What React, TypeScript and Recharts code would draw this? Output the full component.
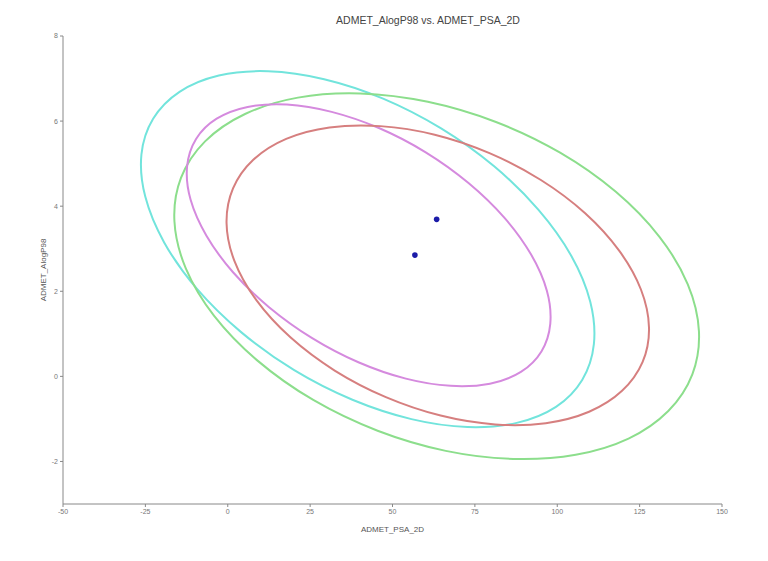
import React from "react";
import { ComposedChart, Line, Scatter, XAxis, YAxis } from "recharts";

const xTicks = [-50, -25, 0, 25, 50, 75, 100, 125, 150];
const yTicks = [-2, 0, 2, 4, 6, 8];

const cyanX = [108.3, 100.3, 88.2, 73.1, 55.9, 37.8, 19.9, 3.6, -10.0, -20.0, -25.8, -27.0, -23.4, -15.3, -3.2, 11.9, 29.1, 47.2, 65.0, 81.3, 94.9, 105.0, 110.8, 111.9];
const cyanY = [-0.12, -0.76, -1.14, -1.24, -1.05, -0.59, 0.11, 1.02, 2.05, 3.15, 4.24, 5.24, 6.09, 6.73, 7.12, 7.22, 7.03, 6.57, 5.86, 4.96, 3.92, 2.83, 1.74, 0.73];

const greenX = [141.9, 134.5, 122.3, 106.1, 86.9, 66.2, 45.3, 25.5, 8.4, -4.9, -13.6, -17.1, -15.1, -7.7, 4.6, 20.8, 39.9, 60.7, 81.6, 101.3, 118.4, 131.8, 140.5, 143.9];
const greenY = [0.02, -0.85, -1.51, -1.89, -1.99, -1.8, -1.32, -0.59, 0.35, 1.41, 2.54, 3.66, 4.69, 5.56, 6.21, 6.6, 6.7, 6.5, 6.02, 5.29, 4.36, 3.29, 2.16, 1.05];

const magentaX = [95.8, 89.5, 80.0, 67.9, 54.2, 39.6, 25.3, 12.2, 1.1, -7.0, -11.9, -13.0, -10.2, -3.9, 5.6, 17.7, 31.4, 45.9, 60.3, 73.4, 84.5, 92.6, 97.5, 98.5];
const magentaY = [0.56, 0.07, -0.21, -0.26, -0.09, 0.3, 0.88, 1.61, 2.44, 3.31, 4.16, 4.95, 5.61, 6.09, 6.37, 6.43, 6.25, 5.87, 5.29, 4.56, 3.73, 2.86, 2.0, 1.21];

const redX = [126.6, 120.3, 110.2, 96.9, 81.4, 64.6, 47.8, 32.1, 18.5, 8.0, 1.3, -1.1, 0.9, 7.1, 17.2, 30.5, 46.1, 62.8, 79.6, 95.4, 109.0, 119.4, 126.1, 128.6];
const redY = [0.31, -0.37, -0.87, -1.14, -1.17, -0.96, -0.52, 0.11, 0.9, 1.79, 2.72, 3.62, 4.44, 5.12, 5.62, 5.89, 5.92, 5.72, 5.28, 4.64, 3.85, 2.96, 2.04, 1.13];

const pointX = [63.4, 56.8];
const pointY = [3.69, 2.85];

const toRows = (xs: number[], ys: number[]) => xs.map((x, i) => ({ x, y: ys[i] }));

const curves = [
  { name: "cyan", rows: toRows(cyanX, cyanY), color: "#72e4dc" },
  { name: "green", rows: toRows(greenX, greenY), color: "#8cde8c" },
  { name: "magenta", rows: toRows(magentaX, magentaY), color: "#d58ade" },
  { name: "red", rows: toRows(redX, redY), color: "#d67f7f" },
];
const points = toRows(pointX, pointY);

const tickStyle = { fontSize: 7, fill: "#777", fontFamily: "Liberation Sans, Arial, sans-serif" };

export default function App() {
  return (
    <div style={{ position: "relative", width: 752, height: 545, background: "#fff", fontFamily: "Liberation Sans, Arial, sans-serif" }}>
      <div style={{ position: "absolute", left: 0, width: 840, top: 6, textAlign: "center", fontSize: 10.5, color: "#444" }}>
        ADMET_AlogP98 vs. ADMET_PSA_2D
      </div>
      <ComposedChart width={752} height={545} margin={{ top: 28, right: 38, bottom: 19, left: 15 }}>
        <XAxis
          type="number"
          dataKey="x"
          domain={[-50, 150]}
          ticks={xTicks}
          allowDataOverflow
          stroke="#888"
          tickSize={3}
          tick={tickStyle}
          height={30}
          label={{ value: "ADMET_PSA_2D", position: "insideBottom", offset: 2, style: { fontSize: 8, fill: "#555" } }}
        />
        <YAxis
          type="number"
          dataKey="y"
          domain={[-3, 8]}
          ticks={yTicks}
          allowDataOverflow
          stroke="#888"
          tickSize={3}
          tick={tickStyle}
          width={40}
          label={{ value: "ADMET_AlogP98", angle: -90, position: "insideLeft", offset: 20, style: { fontSize: 8, fill: "#555", textAnchor: "middle" } }}
        />
        {curves.map((c) => (
          <Line
            key={c.name}
            data={c.rows}
            dataKey="y"
            type="basisClosed"
            stroke={c.color}
            strokeWidth={2}
            dot={false}
            activeDot={false}
            isAnimationActive={false}
          />
        ))}
        <Scatter data={points} dataKey="y" fill="#1c1ca8" isAnimationActive={false} shape={(p: any) => <circle cx={p.cx} cy={p.cy} r={2.8} fill="#1c1ca8" />} />
      </ComposedChart>
    </div>
  );
}
